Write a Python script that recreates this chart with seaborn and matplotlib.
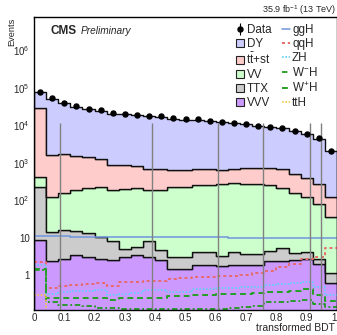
import numpy as np
import pandas as pd
import matplotlib
matplotlib.use("Agg")
import matplotlib.pyplot as plt
import seaborn as sns
from matplotlib.lines import Line2D
from matplotlib.patches import Patch
from matplotlib.ticker import FixedLocator, FixedFormatter, MultipleLocator, LogLocator, NullFormatter

# ---------------- data ----------------
bin_edges = [0.00, 0.04, 0.08, 0.12, 0.16, 0.20, 0.24, 0.28, 0.32, 0.36, 0.40, 0.44, 0.48,
             0.52, 0.56, 0.60, 0.64, 0.68, 0.72, 0.76, 0.80, 0.84, 0.88, 0.92, 0.96, 1.00]

data_obs = [79600, 53000, 40400, 33000, 27500, 25300, 21000, 20600, 19100, 18200, 17500, 15500,
            14600, 14600, 13100, 12300, 11800, 11100, 9800, 9200, 8500, 7100, 6000, 4500, 2100]

bkg_dy = [47000, 49400, 37300, 30200, 25300, 23300, 19600, 19200, 17800, 17100, 16200, 14600,
          13700, 13500, 12100, 11300, 10800, 10100, 8900, 8200, 7600, 6400, 5400, 4100, 1930]
bkg_ttst = [28600, 1500, 1550, 1370, 1215, 1040, 680, 675, 630, 500, 500, 410,
            410, 430, 430, 390, 390, 440, 440, 485, 455, 347, 280, 187, 85]
bkg_vv = [195, 110, 137, 173, 201, 209, 180, 190, 204, 184, 187, 217,
          217, 258, 258, 267, 276, 266, 266, 250, 210, 149, 116, 76, 34]
bkg_ttx = [221.4, 12.0, 13.4, 11.9, 10.5, 8.0, 5.8, 1.85, 2.3, 5.3, 2.15, 1.65,
           1.65, 2.3, 2.3, 1.6, 2.3, 1.8, 1.75, 2.2, 2.8, 1.3, 1.6, 0.7, 0.48]
bkg_vvv = [8.6, 2.4, 2.6, 3.4, 3.0, 2.6, 2.5, 3.1, 3.4, 3.0, 2.5, 1.45,
           1.45, 1.9, 1.9, 1.7, 1.9, 1.9, 1.85, 2.3, 2.4, 2.5, 2.6, 2.0, 0.62]

sig_ggh = [11.2, 10.8, 10.8, 10.7, 10.5, 10.4, 10.4, 10.3, 10.3, 10.3, 10.2, 10.2,
           10.2, 10.1, 10.1, 10.1, 10.0, 10.0, 10.0, 10.0, 10.0, 9.9, 9.9, 9.9, 9.9]
sig_qqh = [2.27, 0.44, 0.51, 0.54, 0.575, 0.60, 0.52, 0.64, 0.64, 0.69, 0.70, 0.80,
           0.82, 0.87, 0.88, 0.92, 0.95, 1.0, 1.15, 1.3, 1.6, 2.0, 2.6, 3.1, 5.3]
sig_zh = [1.85, 0.32, 0.36, 0.37, 0.37, 0.40, 0.29, 0.32, 0.34, 0.40, 0.40, 0.36,
          0.36, 0.41, 0.41, 0.44, 0.44, 0.49, 0.49, 0.54, 0.56, 0.62, 0.64, 0.47, 0.30]
sig_wmh = [1.36, 0.19, 0.16, 0.16, 0.15, 0.13, 0.13, 0.12, 0.12, 0.12, 0.12, 0.12,
           0.12, 0.12, 0.12, 0.12, 0.13, 0.14, 0.15, 0.19, 0.19, 0.20, 0.21, 0.17, 0.14]
sig_wph = [1.45, 0.24, 0.25, 0.25, 0.25, 0.25, 0.21, 0.24, 0.24, 0.25, 0.25, 0.27,
           0.27, 0.29, 0.30, 0.31, 0.32, 0.32, 0.34, 0.35, 0.36, 0.38, 0.42, 0.29, 0.20]
sig_tth = [0.30, 0.06, 0.05, 0.06, 0.05, 0.06, 0.05, 0.05, 0.06, 0.05, 0.06, 0.05,
           0.06, 0.05, 0.06, 0.06, 0.07, 0.07, 0.08, 0.08, 0.09, 0.10, 0.11, 0.10, 0.08]

# MC stat error bars of a finely binned sample (gray vertical lines)
mc_err_x = [0.086, 0.389, 0.607, 0.756, 0.911, 0.947]
mc_err_top = 11500

stack_names = ["DY", "ttst", "VV", "TTX", "VVV"]        # top -> bottom
stack_values = [bkg_dy, bkg_ttst, bkg_vv, bkg_ttx, bkg_vvv]
stack_colors = {"DY": "#ccccff", "ttst": "#ffcccc", "VV": "#ccffcc",
                "TTX": "#cccccc", "VVV": "#cc99ff"}

x_tick_values = [0, 0.1, 0.2, 0.3, 0.4, 0.5, 0.6, 0.7, 0.8, 0.9, 1.0]
x_tick_labels = ["0", "0.1", "0.2", "0.3", "0.4", "0.5", "0.6", "0.7", "0.8", "0.9", "1"]
y_tick_values = [1, 10, 1e2, 1e3, 1e4, 1e5, 1e6]
y_tick_labels = ["1", "10", r"$10^{2}$", r"$10^{3}$", r"$10^{4}$", r"$10^{5}$", r"$10^{6}$"]

# ---------------- style ----------------
sns.set_style("white")
plt.rcParams["font.family"] = ["Liberation Sans", "DejaVu Sans"]
plt.rcParams["mathtext.fontset"] = "custom"
plt.rcParams["mathtext.rm"] = "Liberation Sans"
plt.rcParams["mathtext.it"] = "Liberation Sans:italic"
plt.rcParams["mathtext.bf"] = "Liberation Sans:bold"

fig = plt.figure(figsize=(3.37, 3.35), dpi=100)
ax = fig.add_axes([34 / 337, 25 / 335, 303 / 337, 293 / 335])

centers = [(a + b) / 2 for a, b in zip(bin_edges[:-1], bin_edges[1:])]

rows = []
for name, vals in zip(stack_names, stack_values):
    for c, v in zip(centers, vals):
        rows.append({"x": c, "w": v, "process": name})
df = pd.DataFrame(rows)

sns.histplot(data=df, x="x", weights="w", hue="process", hue_order=stack_names,
             multiple="stack", bins=bin_edges, element="step", fill=True,
             palette=stack_colors, alpha=1, edgecolor="#111111", linewidth=1.0,
             legend=False, ax=ax)

signals = [
    ("ggH", sig_ggh, "#6f95dd", "-", 1.1),
    ("qqH", sig_qqh, "#e86a6a", (0, (1.5, 1.5)), 1.4),
    ("ZH", sig_zh, "#5fd0f5", (0, (1, 1)), 1.2),
    ("W$^{-}$H", sig_wmh, "#1f9a1f", (0, (3, 1.5, 1, 1.5)), 1.3),
    ("W$^{+}$H", sig_wph, "#23a023", (0, (3, 2)), 1.4),
    ("ttH", sig_tth, "#f5c842", (0, (1, 1)), 1.2),
]
for lab, vals, col, ls, lw in signals:
    sns.histplot(x=centers, weights=vals, bins=bin_edges, element="step", fill=False,
                 color=col, linestyle=ls, linewidth=lw, ax=ax)

ax.set_yscale("log")
ax.vlines(mc_err_x, 0.05, mc_err_top, color="#808080", linewidth=1.0, zorder=3)

eb = ax.errorbar(centers, data_obs, yerr=np.sqrt(data_obs), fmt="o", color="black",
                 markersize=3.6, elinewidth=0.8, capsize=0, zorder=5)

ax.set_xlim(0, 1)
ax.set_ylim(0.116, 7.9e6)
ax.set_xlabel("")
ax.set_ylabel("")

ax.xaxis.set_major_locator(FixedLocator(x_tick_values))
ax.xaxis.set_major_formatter(FixedFormatter(x_tick_labels))
ax.xaxis.set_minor_locator(MultipleLocator(0.02))
ax.yaxis.set_major_locator(FixedLocator(y_tick_values))
ax.yaxis.set_major_formatter(FixedFormatter(y_tick_labels))
ax.yaxis.set_minor_locator(LogLocator(base=10, subs=np.arange(2, 10)))
ax.yaxis.set_minor_formatter(NullFormatter())

ax.tick_params(which="both", direction="in", top=False, right=False, width=0.8,
               labelsize=7, color="black")
ax.tick_params(axis="y", which="major", length=6.5, pad=3)
ax.tick_params(axis="y", which="minor", length=3)
ax.tick_params(axis="x", which="major", length=6, pad=2.5)
ax.tick_params(axis="x", which="minor", length=3)
for sp in ax.spines.values():
    sp.set_color("black")
    sp.set_linewidth(1.0)
# keep the "1" label inside the picture
ax.xaxis.get_major_ticks()[-1].label1.set_horizontalalignment("right")

handles = [eb]
for name in stack_names:
    handles.append(Patch(facecolor=stack_colors[name], edgecolor="#222222", linewidth=0.8))
for lab, vals, col, ls, lw in signals:
    handles.append(Line2D([], [], color=col, linestyle=ls, linewidth=lw))
labels = ["Data", "DY", r"t$\bar{\mathrm{t}}$+st", "VV", "TTX", "VVV"] + [s[0] for s in signals]

ax.legend(handles, labels, ncol=2, loc="upper left",
          bbox_to_anchor=(236 / 337, 1 - 24 / 335), bbox_transform=fig.transFigure,
          frameon=False, fontsize=8.4, handlelength=0.7, handleheight=0.75,
          handletextpad=0.2, columnspacing=0.9, labelspacing=0.17,
          borderpad=0, borderaxespad=0)

fig.text(12 / 337, 1 - 18 / 335, "Events", rotation=90, ha="center", va="top", fontsize=6.6)
fig.text(335 / 337, 1 - 328 / 335, "transformed BDT", ha="right", va="center", fontsize=7.5)
fig.text(336 / 337, 1 - 10 / 335, r"35.9 fb$^{-1}$ (13 TeV)", ha="right", va="center", fontsize=6.5)
ax.text(0.053, 0.953, "CMS", transform=ax.transAxes, fontweight="bold", fontsize=8.5,
        ha="left", va="center")
ax.text(0.155, 0.953, "Preliminary", transform=ax.transAxes, style="italic", fontsize=7.3,
        ha="left", va="center")

fig.savefig("out.png", dpi=100)
